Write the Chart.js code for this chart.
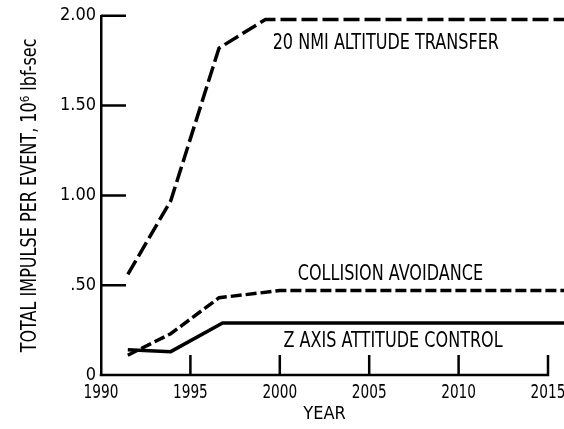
<!DOCTYPE html>
<html>
<head>
<meta charset="utf-8">
<script src="https://cdn.jsdelivr.net/npm/chart.js@4/dist/chart.umd.min.js"></script>
<style>
  body { margin: 0; background: #fff; }
  canvas { display: block; }
</style>
</head>
<body>
<canvas id="impulse-chart" width="564" height="429"></canvas>
<script>
// values (curves run on a little past 2015)
var transferYears = [1991.5, 1993.9, 1996.6, 1999.2, 2015.9];
var transferImpulse = [0.56, 0.97, 1.82, 1.98, 1.98];

var collisionYears = [1991.5, 1993.9, 1996.6, 2000.0, 2015.9];
var collisionImpulse = [0.11, 0.23, 0.43, 0.47, 0.47];

var zAxisYears = [1991.5, 1993.9, 1996.8, 2015.9];
var zAxisImpulse = [0.14, 0.13, 0.29, 0.29];

var xTicks = [1990, 1995, 2000, 2005, 2010, 2015];
var yTicks = [0, 0.5, 1, 1.5, 2];
var yTickLabels = ["0", ".50", "1.00", "1.50", "2.00"];

var yTitle = "TOTAL IMPULSE PER EVENT, 10\u2076 lbf-sec";

// label anchors in data units (left end, baseline)
var curveLabels = [
    { text: "20 NMI ALTITUDE TRANSFER", x: 1999.6, y: 1.817 },
    { text: "COLLISION AVOIDANCE", x: 2001.0, y: 0.528 },
    { text: "Z AXIS ATTITUDE CONTROL", x: 2000.2, y: 0.156 }
];

var FONT = "'Liberation Sans Narrow', 'DejaVu Sans Condensed', 'Liberation Sans', sans-serif";
var SQUEEZE = 0.85;

function pairs(xs, ys) {
    return xs.map(function (x, i) { return { x: x, y: ys[i] }; });
}

// x axis line stops at the last tick; ticks point inward from the axes
var axisFrame = {
    id: 'axisFrame',
    afterDraw: function (chart) {
        var ctx = chart.ctx, x = chart.scales.x, y = chart.scales.y, a = chart.chartArea;
        ctx.save();
        ctx.strokeStyle = '#000';
        ctx.lineWidth = 2.5;
        ctx.beginPath();
        ctx.moveTo(a.left - 1.25, a.bottom);
        ctx.lineTo(x.getPixelForValue(xTicks[xTicks.length - 1]) + 1.25, a.bottom);
        xTicks.forEach(function (v) {
            if (v === xTicks[0]) return;
            var px = x.getPixelForValue(v);
            ctx.moveTo(px, a.bottom);
            ctx.lineTo(px, a.bottom - 20);
        });
        yTicks.forEach(function (v) {
            if (v === yTicks[0]) return;
            var py = y.getPixelForValue(v);
            ctx.moveTo(a.left, py);
            ctx.lineTo(a.left + 25, py);
        });
        ctx.stroke();

        // narrow year labels under the ticks
        ctx.fillStyle = '#000';
        ctx.font = '19px ' + FONT;
        ctx.textAlign = 'center';
        ctx.textBaseline = 'alphabetic';
        xTicks.forEach(function (v) {
            ctx.save();
            ctx.translate(x.getPixelForValue(v), a.bottom + 23);
            ctx.scale(0.8, 1);
            ctx.fillText(String(v), 0, 0);
            ctx.restore();
        });
        ctx.restore();
    }
};

// condensed text: curve names and the y title
var condensedText = {
    id: 'condensedText',
    afterDatasetsDraw: function (chart) {
        var ctx = chart.ctx, a = chart.chartArea;
        ctx.save();
        ctx.fillStyle = '#000';
        ctx.font = '21px ' + FONT;
        ctx.textAlign = 'left';
        ctx.textBaseline = 'alphabetic';
        curveLabels.forEach(function (l) {
            ctx.save();
            ctx.translate(chart.scales.x.getPixelForValue(l.x), chart.scales.y.getPixelForValue(l.y));
            ctx.scale(SQUEEZE, 1);
            ctx.fillText(l.text, 0, 0);
            ctx.restore();
        });
        ctx.save();
        ctx.translate(35.5, (a.top + a.bottom) / 2);
        ctx.rotate(-Math.PI / 2);
        ctx.scale(SQUEEZE, 1);
        ctx.textAlign = 'center';
        ctx.fillText(yTitle, 0, 0);
        ctx.restore();
        ctx.restore();
    }
};

var ctx = document.getElementById("impulse-chart").getContext('2d');
var myChart = new Chart(ctx, {
    type: 'line',
    data: {
        datasets: [{
            label: '20 NMI ALTITUDE TRANSFER',
            data: pairs(transferYears, transferImpulse),
            borderColor: '#000',
            borderWidth: 3.5,
            borderDash: [16, 5],
            pointRadius: 0,
            clip: false
        }, {
            label: 'COLLISION AVOIDANCE',
            data: pairs(collisionYears, collisionImpulse),
            borderColor: '#000',
            borderWidth: 3.5,
            borderDash: [11, 4],
            pointRadius: 0,
            clip: false
        }, {
            label: 'Z AXIS ATTITUDE CONTROL',
            data: pairs(zAxisYears, zAxisImpulse),
            borderColor: '#000',
            borderWidth: 3.5,
            pointRadius: 0,
            clip: false
        }]
    },
    options: {
        responsive: false,
        animation: false,
        layout: { padding: { left: 0, right: 16, top: 15, bottom: 0 } },
        plugins: {
            legend: { display: false },
            tooltip: { enabled: false }
        },
        scales: {
            x: {
                type: 'linear',
                min: 1990,
                max: 2015,
                afterBuildTicks: function (s) { s.ticks = xTicks.map(function (v) { return { value: v }; }); },
                afterFit: function (s) {
                    s.height = 54;
                    s.paddingLeft = 0;
                    s.paddingRight = 0;
                },
                grid: { display: false, drawTicks: false },
                border: { display: false },
                ticks: { display: false },
                title: {
                    display: true,
                    text: 'YEAR',
                    color: '#000',
                    font: { family: FONT, size: 18 },
                    padding: { top: 0, bottom: 4 }
                }
            },
            y: {
                min: 0,
                max: 2,
                afterBuildTicks: function (s) { s.ticks = yTicks.map(function (v) { return { value: v }; }); },
                afterFit: function (s) { s.width = 101; },
                grid: { display: false, drawTicks: false },
                border: { color: '#000', width: 2.5 },
                ticks: {
                    color: '#000',
                    padding: 5,
                    font: { family: FONT, size: 18 },
                    callback: function (v) { return yTickLabels[yTicks.indexOf(v)]; }
                },
                title: { display: false }
            }
        }
    },
    plugins: [axisFrame, condensedText]
});
</script>
</body>
</html>
